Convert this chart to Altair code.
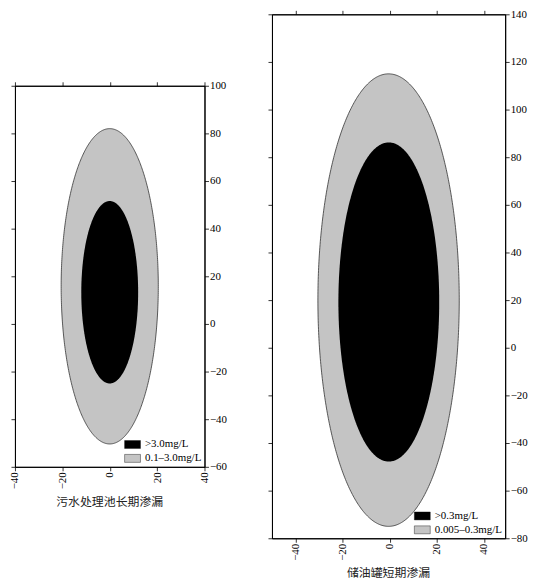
import altair as alt
import numpy as np
import pandas as pd

GRAY = "#c4c4c4"

# ---- Panel 1: 污水处理池长期渗漏 (inner ellipse first, outer second)
p1_title = "污水处理池长期渗漏"
p1_levels = [">3.0mg/L", "0.1\u20133.0mg/L"]
p1_cx = [0.0, 0.0]
p1_cy = [13.3, 15.8]
p1_a = [12.0, 20.5]
p1_b = [38.3, 66.2]
p1_xdom = [-40, 40]
p1_ydom = [-60, 100]
p1_xticks = [-40, -20, 0, 20, 40]
p1_yticks = [100, 80, 60, 40, 20, 0, -20, -40, -60]

# ---- Panel 2: 储油罐短期渗漏
p2_title = "储油罐短期渗漏"
p2_levels = [">0.3mg/L", "0.005\u20130.3mg/L"]
p2_cx = [-0.4, -0.5]
p2_cy = [19.2, 20.0]
p2_a = [21.4, 30.0]
p2_b = [67.0, 95.0]
p2_xdom = [-50, 49]
p2_ydom = [-80, 140]
p2_xticks = [-40, -20, 0, 20, 40]
p2_yticks = [140, 120, 100, 80, 60, 40, 20, 0, -20, -40, -60, -80]


def outline(cx, cy, a, b, level, n=241):
    t = np.linspace(0, np.pi, n)
    return pd.DataFrame({
        "y": cy + b * np.cos(t),
        "xl": cx - a * np.sin(t),
        "xr": cx + a * np.sin(t),
        "level": level,
    })


SYMBOL = "M-1,-0.5H1V0.5H-1Z"


def panel(title, levels, cx, cy, a, b, xdom, ydom, xticks, yticks, w, h):
    cscale = alt.Scale(domain=levels, range=["black", GRAY])
    xs = alt.Scale(domain=xdom, nice=False, zero=False)
    ys = alt.Scale(domain=ydom, nice=False, zero=False)
    legend = alt.Legend(
        title=None, orient="bottom-right", offset=3, padding=0,
        symbolType=SYMBOL, symbolSize=256, symbolStrokeColor="black",
        symbolStrokeWidth=0.4, rowPadding=0, labelOffset=4,
        labelFont="Liberation Serif", labelFontSize=11, labelColor="black",
    )
    outer = alt.Chart(outline(cx[1], cy[1], a[1], b[1], levels[1])).mark_area(
        orient="horizontal", stroke="#333", strokeWidth=0.8, opacity=1
    ).encode(
        y=alt.Y("y:Q", scale=ys,
                axis=alt.Axis(orient="right", values=yticks, title=None)),
        x=alt.X("xl:Q", scale=xs,
                axis=alt.Axis(orient="bottom", values=xticks, title=None,
                              labelAngle=270)),
        x2="xr:Q",
        color=alt.Color("level:N", scale=cscale, legend=legend),
    )
    inner = alt.Chart(outline(cx[0], cy[0], a[0], b[0], levels[0])).mark_area(
        orient="horizontal", opacity=1
    ).encode(
        y=alt.Y("y:Q", scale=ys,
                axis=alt.Axis(orient="left", values=yticks, title=None,
                              labels=False)),
        x=alt.X("xl:Q", scale=xs,
                axis=alt.Axis(orient="top", values=xticks, title=None,
                              labels=False)),
        x2="xr:Q",
        color=alt.Color("level:N", scale=cscale, legend=legend),
    )
    return alt.layer(outer, inner).resolve_axis(
        x="independent", y="independent"
    ).properties(
        width=w, height=h,
        title=alt.TitleParams(
            title, orient="bottom", anchor="middle", font="Noto Sans CJK SC",
            fontSize=12, fontWeight="normal", color="#222", offset=8,
        ),
    )


left = panel(p1_title, p1_levels, p1_cx, p1_cy, p1_a, p1_b,
             p1_xdom, p1_ydom, p1_xticks, p1_yticks, 191, 384)
right = panel(p2_title, p2_levels, p2_cx, p2_cy, p2_a, p2_b,
              p2_xdom, p2_ydom, p2_xticks, p2_yticks, 235, 528)

chart = alt.hconcat(left, right, spacing=40, center=True).resolve_scale(
    color="independent"
).properties(
    padding={"left": 0, "top": -3, "right": 0, "bottom": 0}
).configure_view(
    stroke="black", strokeWidth=1
).configure_axis(
    grid=False, domainColor="black", domainWidth=1, tickColor="black",
    tickSize=4, tickWidth=0.8, labelFont="Liberation Serif", labelFontSize=11,
    labelColor="black", labelPadding=1,
)

chart.save("out.html", embed_options={"renderer": "svg", "actions": False})
